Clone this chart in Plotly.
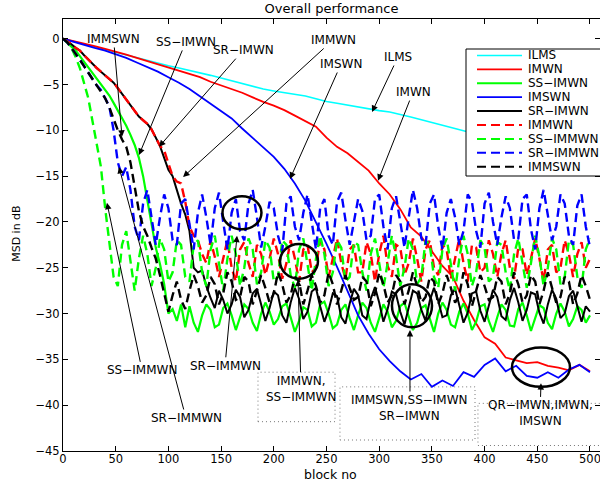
import plotly.graph_objects as go

# ---------------------------------------------------------------------------
# Data: mean-square deviation (dB) versus block number
# ---------------------------------------------------------------------------
BLOCKS = list(range(0, 501, 4))          # grid for the fast / noisy curves
SMOOTH_BLOCKS = list(range(0, 501, 10))  # grid for the slow, smooth curves

ILMS = [
    0, -0.3, -0.6, -0.9, -1.2, -1.5, -1.8, -2.1, -2.4, -2.7,
    -2.95, -3.2, -3.45, -3.7, -4.0, -4.3, -4.6, -4.9, -5.2, -5.5,
    -5.7, -5.9, -6.05, -6.25, -6.55, -6.85, -7.05, -7.25, -7.45, -7.7,
    -7.85, -8.0, -8.25, -8.55, -8.85, -9.15, -9.45, -9.8, -10.1, -10.35,
    -10.6, -10.8, -11.0, -11.2, -11.4, -11.6, -11.8, -12.0, -12.2, -12.4,
    -12.6,
]

IMWN = [
    0, -0.25, -0.5, -0.8, -1.1, -1.4, -1.75, -2.1, -2.45, -2.85,
    -3.2, -3.55, -3.85, -4.2, -4.7, -5.1, -5.5, -5.9, -6.4, -6.9,
    -7.3, -7.8, -8.4, -9.0, -9.6, -10.8, -11.8, -12.5, -13.4, -14.4,
    -15.8, -17.0, -18.6, -20.6, -21.6, -23.2, -24.8, -26.0, -28.6, -30.7,
    -32.6, -33.3, -34.8, -35.1, -35.4, -35.3, -35.7, -35.9, -36.2, -35.6,
    -36.3,
]

IMSWN = [
    0, -0.35, -0.7, -1.0, -1.3, -1.7, -2.1, -2.6, -3.1, -3.6,
    -4.2, -4.8, -5.5, -6.3, -7.1, -7.9, -8.7, -9.8, -10.8, -11.8,
    -12.9, -14.2, -15.8, -17.7, -20.0, -22.4, -24.9, -27.6, -30.2, -32.2,
    -33.9, -35.2, -36.3, -37.2, -36.6, -38.0, -37.3, -37.9, -36.4, -36.9,
    -35.6, -34.9, -36.3, -35.7, -36.8, -37.0, -36.4, -37.0, -36.1, -35.6,
    -36.4,
]

SS_IMWN = [
    0, -0.4, -0.8, -1.3, -1.9, -2.5, -3.1, -3.7, -4.3, -5.0,
    -5.5, -6.2, -7.0, -7.8, -8.7, -9.5, -10.5, -11.6, -13.0, -15.0,
    -17.6, -20.2, -22.8, -24.6, -26.8, -30.0, -29.5, -30.8, -29.0, -31.5,
    -29.2, -31.0, -32.0, -30.2, -29.0, -29.6, -31.5, -31.2, -29.4, -28.9,
    -30.2, -31.8, -30.5, -29.0, -29.5, -31.0, -31.9, -30.0, -28.8, -29.8,
    -31.2, -30.6, -29.2, -28.9, -30.4, -32.0, -30.8, -29.3, -29.6, -31.4,
    -31.0, -29.0, -28.7, -30.0, -31.6, -31.2, -29.6, -29.0, -30.5, -31.8,
    -30.2, -28.8, -29.4, -31.0, -32.0, -30.4, -29.0, -29.8, -31.5, -30.8,
    -29.2, -28.8, -30.2, -31.8, -31.0, -29.4, -29.1, -30.6, -32.0, -30.0,
    -28.8, -29.6, -31.2, -31.5, -29.8, -28.9, -30.0, -31.8, -30.9, -29.2,
    -29.0, -30.8, -32.0, -30.4, -29.0, -29.6, -31.3, -31.4, -29.5, -28.8,
    -30.2, -31.9, -30.6, -29.1, -29.4, -31.0, -31.7, -30.0, -28.9, -29.8,
    -31.4, -30.6, -29.2, -29.6, -31.0, -30.2,
]

SR_IMWN = [
    0, -0.3, -0.6, -1.0, -1.3, -1.8, -2.3, -2.8, -3.2, -3.6,
    -4.0, -4.4, -4.8, -5.4, -6.0, -6.6, -7.2, -7.9, -8.5, -8.9,
    -9.3, -9.9, -10.8, -11.7, -13.0, -14.3, -15.0, -16.5, -18.0, -19.2,
    -21.0, -25.0, -25.5, -25.3, -27.0, -28.3, -29.4, -27.5, -28.5, -30.0,
    -29.0, -27.4, -28.2, -30.4, -29.6, -27.8, -27.3, -29.0, -30.8, -29.4,
    -27.6, -28.0, -30.2, -31.0, -28.8, -27.2, -28.4, -30.6, -29.8, -27.6,
    -27.2, -29.2, -30.9, -29.6, -27.8, -28.1, -30.4, -31.1, -28.9, -27.3,
    -28.0, -30.2, -30.6, -28.4, -27.1, -28.8, -30.9, -29.5, -27.6, -27.9,
    -29.8, -31.2, -29.4, -27.5, -27.8, -29.6, -30.8, -28.6, -27.2, -28.6,
    -30.4, -30.2, -28.0, -27.3, -29.1, -31.0, -29.9, -27.8, -27.6, -29.7,
    -30.9, -29.1, -27.4, -28.2, -30.3, -30.7, -28.5, -27.2, -28.8, -30.8,
    -29.6, -27.7, -27.9, -29.9, -31.1, -29.0, -27.4, -28.4, -30.5, -30.0,
    -28.1, -27.5, -29.3, -30.9, -29.2, -29.8,
]

IMMWN = [
    0, -0.3, -0.6, -1.0, -1.3, -1.8, -2.3, -2.8, -3.2, -3.6,
    -4.0, -4.4, -4.8, -5.4, -6.0, -6.6, -7.2, -7.9, -8.5, -8.9,
    -9.3, -9.9, -10.8, -11.7, -12.2, -13.5, -15.0, -15.6, -15.8, -17.8,
    -20.5, -21.5, -22.0, -23.5, -24.5, -22.0, -23.8, -26.0, -24.0, -22.0,
    -25.0, -26.5, -23.0, -22.2, -24.5, -26.0, -22.5, -23.5, -25.8, -24.0,
    -21.8, -23.5, -26.2, -24.5, -22.0, -24.0, -26.5, -23.0, -22.5, -25.5,
    -25.0, -22.0, -23.0, -26.0, -24.0, -21.8, -24.5, -26.2, -23.0, -22.5,
    -25.5, -25.5, -22.2, -23.5, -26.5, -23.5, -21.5, -24.8, -26.0, -22.5,
    -22.8, -25.8, -24.5, -21.8, -24.0, -26.5, -23.0, -22.0, -25.0, -25.8,
    -22.5, -23.0, -26.2, -24.0, -21.8, -24.5, -26.5, -22.5, -22.8, -25.5,
    -25.0, -22.0, -23.5, -26.0, -23.5, -22.0, -25.0, -26.2, -22.8, -23.0,
    -25.8, -24.0, -21.8, -24.0, -26.5, -23.0, -22.5, -25.5, -25.0, -22.0,
    -23.5, -26.0, -23.5, -22.2, -25.0, -24.0,
]

SS_IMMWN = [
    0, -0.4, -1.0, -2.0, -3.2, -4.8, -6.5, -9.0, -11.5, -14.0,
    -18.5, -22.0, -26.0, -27.0, -22.5, -21.0, -24.5, -27.5, -24.0, -21.5,
    -23.5, -27.0, -25.0, -21.8, -23.0, -26.5, -25.5, -22.0, -22.5, -26.0,
    -26.5, -22.5, -22.0, -25.5, -27.0, -23.0, -21.5, -24.5, -27.5, -24.0,
    -21.5, -23.5, -27.0, -25.0, -21.8, -23.0, -26.8, -25.5, -22.0, -22.8,
    -26.5, -26.0, -22.0, -22.5, -25.8, -27.2, -23.0, -21.8, -24.8, -27.5,
    -24.0, -21.5, -23.5, -27.0, -25.5, -22.0, -22.8, -26.5, -26.0, -22.2,
    -22.5, -25.5, -27.5, -23.5, -21.8, -24.5, -27.2, -24.5, -21.5, -23.8,
    -27.0, -25.0, -21.8, -23.0, -26.8, -26.0, -22.0, -22.5, -26.0, -27.2,
    -23.0, -21.8, -24.8, -27.5, -24.0, -21.5, -23.5, -27.0, -25.5, -22.0,
    -22.8, -26.5, -26.0, -22.2, -22.5, -25.5, -27.5, -23.5, -21.8, -24.5,
    -27.2, -24.5, -21.5, -23.8, -27.0, -25.0, -21.8, -23.0, -26.8, -26.0,
    -22.0, -22.5, -26.0, -27.2, -23.0, -21.8,
]

SR_IMMWN = [
    0, -0.4, -1.0, -1.6, -2.3, -3.0, -3.7, -4.5, -5.1, -5.6,
    -6.5, -7.4, -10.0, -13.5, -15.0, -14.0, -16.5, -20.5, -22.0, -18.0,
    -16.5, -19.5, -22.5, -19.5, -17.0, -18.5, -22.0, -22.5, -18.0, -17.5,
    -20.5, -23.0, -19.0, -17.0, -19.5, -22.5, -18.5, -16.8, -20.0, -23.0,
    -19.0, -17.5, -21.0, -22.0, -18.0, -16.5, -19.5, -22.8, -20.5, -17.8,
    -18.5, -21.5, -23.2, -18.0, -17.2, -20.5, -22.0, -19.0, -17.0, -20.0,
    -23.0, -18.5, -17.5, -21.5, -22.5, -17.8, -16.8, -19.8, -22.5, -20.0,
    -17.5, -18.8, -22.0, -21.5, -17.5, -17.0, -20.5, -23.0, -18.5, -17.2,
    -20.0, -22.8, -19.5, -16.5, -18.5, -21.8, -22.5, -18.0, -17.0, -20.5,
    -23.0, -19.0, -17.5, -19.5, -22.5, -21.0, -17.0, -17.8, -21.0, -22.8,
    -18.0, -16.8, -20.0, -22.5, -19.5, -17.2, -18.5, -22.0, -21.8, -17.5,
    -17.0, -20.8, -23.0, -18.5, -16.5, -19.5, -22.0, -20.5, -17.0, -18.0,
    -21.5, -22.5, -18.2, -17.0, -20.5, -22.8,
]

IMMSWN = [
    0, -0.4, -1.0, -1.6, -2.3, -3.0, -3.7, -4.5, -5.1, -5.8,
    -6.5, -7.5, -8.8, -10.0, -11.0, -11.8, -13.5, -16.0, -18.8, -20.5,
    -21.5, -22.8, -24.0, -25.8, -27.8, -29.8, -28.0, -26.5, -28.5, -29.5,
    -27.5, -25.8, -27.0, -28.8, -28.0, -26.0, -26.8, -29.0, -27.8, -25.5,
    -26.5, -28.5, -28.2, -26.0, -26.5, -29.0, -27.5, -25.8, -27.2, -28.8,
    -27.8, -25.5, -26.8, -28.8, -28.0, -26.0, -26.5, -29.0, -27.5, -25.8,
    -27.0, -28.8, -28.0, -25.5, -26.8, -29.0, -27.5, -25.8, -27.2, -28.5,
    -28.2, -26.0, -26.5, -29.2, -27.8, -25.5, -26.8, -28.8, -28.0, -25.8,
    -26.5, -29.0, -27.5, -25.5, -27.0, -28.8, -28.2, -26.0, -26.5, -29.0,
    -27.8, -25.8, -27.2, -28.8, -28.0, -25.5, -26.8, -29.2, -27.5, -25.8,
    -27.0, -28.5, -28.2, -26.0, -26.5, -29.0, -27.8, -25.5, -26.8, -28.8,
    -28.0, -25.8, -26.5, -29.0, -27.5, -25.5, -27.2, -28.8, -28.2, -26.0,
    -26.5, -29.0, -27.8, -25.8, -27.0, -28.5,
]

SERIES_NAMES = ["ILMS", "IMWN", "SS−IMWN", "IMSWN", "SR−IMWN",
                "IMMWN", "SS−IMMWN", "SR−IMMWN", "IMMSWN"]
SERIES_VALUES = [ILMS, IMWN, SS_IMWN, IMSWN, SR_IMWN,
                 IMMWN, SS_IMMWN, SR_IMMWN, IMMSWN]
SERIES_BLOCKS = [SMOOTH_BLOCKS, SMOOTH_BLOCKS, BLOCKS, SMOOTH_BLOCKS, BLOCKS,
                 BLOCKS, BLOCKS, BLOCKS, BLOCKS]

X_TICKS = list(range(0, 501, 50))
Y_TICKS = list(range(-45, 1, 5))

# ---------------------------------------------------------------------------
# Styling
# ---------------------------------------------------------------------------
FONT = "DejaVu Sans"
COLORS = ["#00FFFF", "#FF0000", "#00FF00", "#0000FF", "#000000",
          "#FF0000", "#00FF00", "#0000FF", "#000000"]
DASHES = ["solid"] * 5 + ["9px,5px"] * 4
WIDTHS = [1.6, 1.8, 2.2, 1.8, 2.0, 2.4, 2.4, 2.4, 2.4]

fig = go.Figure()
for name, xs, ys, c, d, w in zip(SERIES_NAMES, SERIES_BLOCKS, SERIES_VALUES,
                                 COLORS, DASHES, WIDTHS):
    fig.add_trace(go.Scatter(x=xs, y=ys, mode="lines", name=name,
                             line=dict(color=c, width=w, dash=d),
                             showlegend=False, hoverinfo="skip"))

axis_common = dict(showline=True, linecolor="black", linewidth=1,
                   mirror="allticks", ticks="inside", ticklen=5,
                   tickcolor="black", showgrid=False, zeroline=False,
                   tickfont=dict(family=FONT, size=11.5, color="black"))

fig.update_layout(
    width=600, height=482,
    margin=dict(l=63, r=0, t=19, b=31),
    paper_bgcolor="white", plot_bgcolor="white",
    title=dict(text="Overall performance", x=0.5, xref="paper",
               y=1 - 8.5 / 482, yanchor="middle",
               font=dict(family=FONT, size=13, color="black")),
    xaxis=dict(range=[0, 509.5], tickvals=X_TICKS, ticklabeloverflow="allow",
               ticklabelstandoff=-3, **axis_common),
    yaxis=dict(range=[-45, 2.15], tickvals=Y_TICKS, **axis_common),
    showlegend=False,
)

# axis titles
fig.add_annotation(text="block no", xref="paper", yref="paper",
                   x=0.499, y=-23 / 432, xanchor="center", yanchor="middle",
                   showarrow=False, font=dict(family=FONT, size=12.5, color="black"))
fig.add_annotation(text="MSD in dB", xref="paper", yref="paper",
                   x=-46 / 537, y=0.505, textangle=-90, xanchor="center",
                   yanchor="middle", showarrow=False,
                   font=dict(family=FONT, size=11, color="black"))

# ---------------------------------------------------------------------------
# Callouts: (label, arrow tip, text position) in data coordinates
# ---------------------------------------------------------------------------
CALLOUTS = [
    ("IMMSWN", (56.0, -10.7), (48.0, -0.03)),
    ("SS−IMWN", (72.1, -12.7), (116.5, -0.35)),
    ("SR−IMWN", (91.1, -11.8), (171.0, -1.25)),
    ("IMMWN", (113.9, -15.1), (256.2, -0.14)),
    ("IMSWN", (215.4, -15.3), (263.8, -2.76)),
    ("ILMS", (293.2, -8.0), (317.8, -2.0)),
    ("IMWN", (298.9, -15.5), (332.1, -5.82)),
    ("SS−IMMWN", (41.7, -17.9), (75.0, -36.2)),
    ("SR−IMMWN", (53.1, -14.0), (116.7, -41.4)),
    ("SR−IMMWN", (165.1, -21.5), (153.7, -35.7)),
    ("IMMWN,<br>SS−IMMWN", (223.0, -26.3), (225.8, -38.2)),
    ("IMMSWN,SS−IMWN<br>SR−IMWN", (329.2, -31.8), (329.2, -40.3)),
    ("QR−IMWN,IMWN,<br>IMSWN", (453.5, -37.6), (452.6, -40.9)),
]
for label, (hx, hy), (tx, ty) in CALLOUTS:
    fig.add_annotation(text=label, x=hx, y=hy, ax=tx, ay=ty,
                       xref="x", yref="y", axref="x", ayref="y",
                       showarrow=True, arrowhead=2, arrowsize=1.3,
                       arrowwidth=1, arrowcolor="black", standoff=0,
                       align="center",
                       font=dict(family=FONT, size=12, color="black"))

# ellipses marking the steady-state regions
ELLIPSES = [(151.3, 188.3, -20.8, -17.2), (205.9, 241.9, -26.2, -22.4),
            (312.1, 350.1, -31.5, -26.8), (426.0, 481.0, -38.0, -33.7)]
for x0, x1, y0, y1 in ELLIPSES:
    fig.add_shape(type="circle", xref="x", yref="y", x0=x0, x1=x1, y0=y0,
                  y1=y1, line=dict(color="black", width=2.5), layer="above")

# dotted frames around the multi-line callouts
FRAMES = [(185.0, 258.1, -41.8, -36.4), (262.8, 390.9, -43.8, -38.0),
          (393.7, 515.0, -44.4, -39.8)]
for x0, x1, y0, y1 in FRAMES:
    fig.add_shape(type="rect", xref="x", yref="y", x0=x0, x1=x1, y0=y0,
                  y1=y1, line=dict(color="#777777", width=1, dash="1px,3px"),
                  layer="above")

# ---------------------------------------------------------------------------
# Legend box (paper coordinates)
# ---------------------------------------------------------------------------
LEG_X0, LEG_X1 = (466 - 63) / 537, 1.02
LEG_Y0, LEG_Y1 = (451 - 176) / 432, (451 - 49) / 432
fig.add_shape(type="rect", xref="paper", yref="paper", x0=LEG_X0, x1=LEG_X1,
              y0=LEG_Y0, y1=LEG_Y1, fillcolor="white",
              line=dict(color="black", width=1), layer="above")
for i, (name, c, d, w) in enumerate(zip(SERIES_NAMES, COLORS, DASHES, WIDTHS)):
    py = 55.5 + i * 13.9
    yp = (451 - py) / 432
    fig.add_shape(type="line", xref="paper", yref="paper",
                  x0=(477 - 63) / 537, x1=(522 - 63) / 537, y0=yp, y1=yp,
                  line=dict(color=c, width=min(w, 2.0), dash=d), layer="above")
    fig.add_annotation(text=name, xref="paper", yref="paper",
                       x=(526 - 63) / 537, y=yp, xanchor="left",
                       yanchor="middle", showarrow=False,
                       font=dict(family=FONT, size=12, color="black"))

fig.write_html("out.html")
